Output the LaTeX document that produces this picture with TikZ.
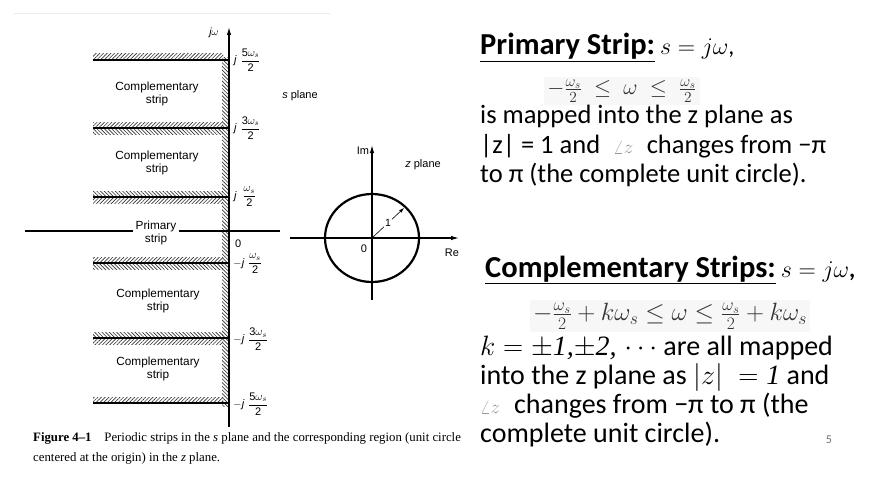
\documentclass[tikz,border=0pt]{standalone}
\usepackage{fix-cm}
\usepackage{fontspec}
\setmainfont{Carlito}
\newfontfamily\figsans{Liberation Sans}
\newfontfamily\capserif{Liberation Serif}
\usetikzlibrary{arrows.meta,patterns.meta}
\begin{document}
\begin{tikzpicture}[x=1pt,y=-1pt,
  axis/.style={line width=1.2pt,-{Latex[length=8pt,width=4.5pt]}},
  stripline/.style={line width=1.4pt},
  hatchA/.style={pattern={Lines[angle=45,distance=2.6pt,line width=0.65pt]},pattern color=black!80},
  hatchB/.style={pattern={Lines[angle=-45,distance=2.6pt,line width=0.65pt]},pattern color=black!80},
  lab/.style={font=\figsans\fontsize{11.8}{12.5}\selectfont, inner sep=1pt, align=center},
  flab/.style={font=\figsans\fontsize{11}{12}\selectfont, inner sep=1pt, anchor=west},
  rtext/.style={font=\fontsize{26.5}{29}\selectfont, inner sep=0pt, anchor=base west},
  rtextB/.style={font=\fontsize{28}{29}\selectfont, inner sep=0pt, anchor=base west},
  head/.style={font=\fontsize{30.5}{32}\selectfont, inner sep=0pt, anchor=base west},
  eqbox/.style={fill=black!3, inner sep=3pt, text=black!80},
]
\useasboundingbox (0,0) rectangle (877,484);
\fill[white] (0,0) rectangle (877,484);
% faint scan edge
\draw[black!7, line width=0.8pt] (14,13) -- (330,13);

% ---------- s plane ----------
% hatched bands
\path[hatchA] (93,54) rectangle (223,60);
\path[hatchA] (93,122) rectangle (223,128);
\path[hatchB] (93,128) rectangle (223,134);
\path[hatchB] (93,191) rectangle (223,197);
\path[hatchA] (93,197) rectangle (223,203);
\path[hatchA] (93,257) rectangle (223,263);
\path[hatchB] (93,263) rectangle (223,269);
\path[hatchB] (93,332) rectangle (223,338);
\path[hatchA] (93,338) rectangle (223,344);
\path[hatchA] (93,397) rectangle (223,403);
\path[hatchB] (222,58) rectangle (229,406);

% strip boundary lines
\coordinate (p5a) at (93,60);  \coordinate (p5b) at (229,60);
\coordinate (p3a) at (93,128); \coordinate (p3b) at (229,128);
\coordinate (p1a) at (93,197); \coordinate (p1b) at (229,197);
\coordinate (m1a) at (93,263); \coordinate (m1b) at (229,263);
\coordinate (m3a) at (93,338); \coordinate (m3b) at (229,338);
\coordinate (m5a) at (93,403); \coordinate (m5b) at (229,403);
\foreach \a/\b in {p5a/p5b,p3a/p3b,p1a/p1b,m1a/m1b,m3a/m3b,m5a/m5b}
  \draw[stripline] (\a) -- (\b);

% axes
\coordinate (sB) at (229,427); \coordinate (sT) at (229,27);
\draw[axis] (sB) -- (sT);
\coordinate (sL) at (25,231); \coordinate (sR) at (280,231);
\draw[line width=1.2pt] (sL) -- (sR);
\node[font=\figsans\itshape\fontsize{10.5}{11}\selectfont, inner sep=1pt] (jw) at (214,33) {j$\omega$};

% strip labels
\node[lab] (c1) at (157,94) {Complementary\\strip};
\node[lab] (c2) at (157,163) {Complementary\\strip};
\node[lab, fill=white, inner xsep=3pt] (pr) at (156,233) {Primary\\strip};
\node[lab] (c3) at (158,301) {Complementary\\strip};
\node[lab] (c4) at (158,369) {Complementary\\strip};

% frequency labels
\node[flab] (l5) at (233,60) {\textit{j}\,\,$\displaystyle\frac{\mbox{5}\omega_s}{\mbox{2}}$};
\node[flab] (l3) at (233,128) {\textit{j}\,\,$\displaystyle\frac{\mbox{3}\omega_s}{\mbox{2}}$};
\node[flab] (l1) at (233,197) {\textit{j}\,\,\,$\displaystyle\frac{\omega_s}{\mbox{2}}$};
\node[flab] (l0) at (234,244) {0};
\node[flab] (n1) at (232,264) {$-$\textit{j}\,\,$\displaystyle\frac{\omega_s}{\mbox{2}}$};
\node[flab] (n3) at (232,339) {$-$\textit{j}\,\,$\displaystyle\frac{\mbox{3}\omega_s}{\mbox{2}}$};
\node[flab] (n5) at (232,404) {$-$\textit{j}\,\,$\displaystyle\frac{\mbox{5}\omega_s}{\mbox{2}}$};

\node[font=\figsans\fontsize{11}{12}\selectfont, inner sep=1pt] (sp) at (300,96) {\textit{s} plane};

% ---------- z plane ----------
\coordinate (O) at (372,238);
\coordinate (imB) at (372,300); \coordinate (imT) at (372,145);
\coordinate (reL) at (290,238); \coordinate (reR) at (459,238);
\draw[axis] (imB) -- (imT);
\draw[axis] (reL) -- (reR);
\draw[line width=2.2pt] (O) ellipse [x radius=47pt, y radius=44pt];
\coordinate (rim) at (404,208);
\draw[line width=0.6pt, -{Latex[length=5pt,width=3.5pt]}] (O) -- (rim)
  node[pos=0.5, fill=white, inner sep=0.6pt, font=\figsans\fontsize{10.5}{11}\selectfont] (one) {1};
\node[font=\figsans\fontsize{11}{12}\selectfont, inner sep=1pt] (im) at (363,151) {Im};
\node[font=\figsans\fontsize{11}{12}\selectfont, inner sep=1pt] (zp) at (423,165) {\textit{z} plane};
\node[font=\figsans\fontsize{11}{12}\selectfont, inner sep=1pt] (z0) at (364,249) {0};
\node[font=\figsans\fontsize{11}{12}\selectfont, inner sep=1pt] (re) at (452,253) {Re};

% caption
\node[anchor=north west, align=left, inner sep=0pt,
      font=\capserif\fontsize{12.8}{20}\selectfont] (cap) at (33,432)
  {\textbf{Figure 4–1}\quad Periodic strips in the \textit{s} plane and the corresponding region (unit circle\\
   centered at the origin) in the \textit{z} plane.};

% ---------- right text ----------
\node[head] (h1) at (480,55) {\underline{\textbf{Primary Strip:}}\,{\fontsize{24}{26}\selectfont$s = j\omega$,}};
\node[eqbox, font=\fontsize{22}{26}\selectfont] (e1) at (622,91)
  {$-\frac{\omega_s}{2} \;\le\; \omega \;\le\; \frac{\omega_s}{2}$};
\node[rtext] (t1) at (480,124) {is mapped into the z plane as};
\node[rtext] (t2) at (480,153) {|z| = 1 and \;{\fontsize{19}{20}\selectfont\color{black!40}$\angle z$}\; changes from −π};
\node[rtext] (t3) at (480,182) {to π (the complete unit circle).};

\node[head] (h2) at (485,277) {\underline{\textbf{Complementary Strips:}}\,{\fontsize{24}{26}\selectfont$s = j\omega$\textbf{,}}};
\node[eqbox, font=\fontsize{25}{28}\selectfont] (e2) at (670,316)
  {$-\frac{\omega_s}{2}+k\omega_s \le \omega \le \frac{\omega_s}{2}+k\omega_s$};
\node[rtextB] (t4) at (480,355) {$k=\pm${\capserif\itshape 1,}$\pm${\capserif\itshape 2,}\;$\cdots$ are all mapped};
\node[rtextB] (t5) at (480,384) {into the z plane as $|z|\;=\;${\capserif\itshape 1} and};
\node[rtextB] (t6) at (480,413) {{\fontsize{19}{20}\selectfont\color{black!40}$\angle z$}\; changes from −π to π (the};
\node[rtextB] (t7) at (480,442) {complete unit circle).};
\node[font=\fontsize{12}{14}\selectfont, text=black!55, inner sep=0pt, anchor=base] (pg) at (829,443) {5};
\end{tikzpicture}
\end{document}
